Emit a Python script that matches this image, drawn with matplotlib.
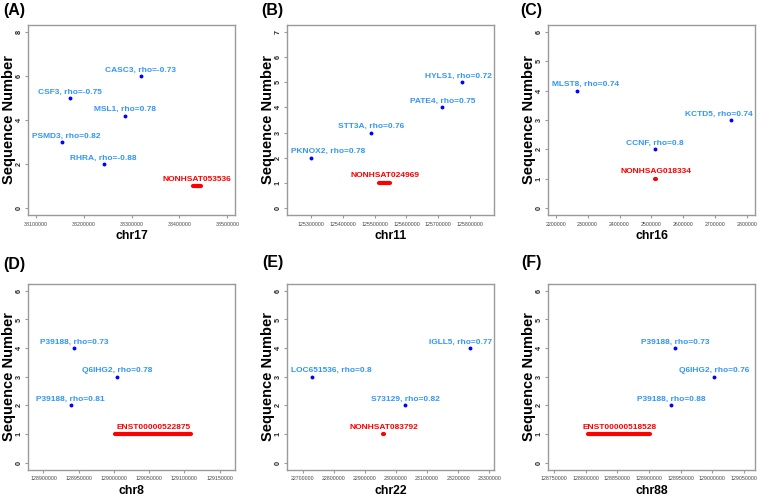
import matplotlib
matplotlib.use("Agg")
import matplotlib.pyplot as plt

plt.rcParams['font.family'] = ['Liberation Sans', 'DejaVu Sans']

# panel letters, chromosome names
panels = ['(A)', '(B)', '(C)', '(D)', '(E)', '(F)']
chroms = ['chr17', 'chr11', 'chr16', 'chr8', 'chr22', 'chr88']

# co-expressed genes per panel: name, position, row, rho
gene_names = [
    ['CASC3', 'CSF3', 'MSL1', 'PSMD3', 'RHRA'],
    ['HYLS1', 'PATE4', 'STT3A', 'PKNOX2'],
    ['MLST8', 'KCTD5', 'CCNF'],
    ['P39188', 'Q6IHG2', 'P39188'],
    ['IGLL5', 'LOC651536', 'S73129'],
    ['P39188', 'Q6IHG2', 'P39188'],
]
gene_pos = [
    [38319000, 38172500, 38286000, 38154000, 38242000],
    [125772400, 125712200, 125490300, 125300000],
    [2268000, 2750000, 2510000],
    [128943150, 129005060, 128938460],
    [23238140, 22730420, 23029380],
    [128941250, 129003790, 128935470],
]
gene_row = [
    [6, 5, 4.2, 3, 2],
    [5, 4, 3, 2],
    [4, 3, 2],
    [4, 3, 2],
    [4, 3, 2],
    [4, 3, 2],
]
gene_rho = [
    [-0.73, -0.75, 0.78, 0.82, -0.88],
    [0.72, 0.75, 0.76, 0.78],
    [0.74, 0.74, 0.8],
    [0.73, 0.78, 0.81],
    [0.77, 0.8, 0.82],
    [0.73, 0.76, 0.88],
]

# lncRNA in each panel (row 1)
lnc_names = ['NONHSAT053536', 'NONHSAT024969', 'NONHSAG018334',
             'ENST00000522875', 'NONHSAT083792', 'ENST00000518528']
lnc_start = [38428000, 125514000, 2512000, 129002250, 22959500, 128804100]
lnc_end = [38444000, 125548500, 2514000, 129110130, 22961000, 128901300]

# axis ranges and ticks
x_limits = [(38084000, 38516000), (125226000, 125874000), (2176000, 2824000),
            (128878000, 129172000), (22650000, 23315000), (128740000, 129068000)]
x_ticks = [
    [38100000, 38200000, 38300000, 38400000, 38500000],
    [125300000, 125400000, 125500000, 125600000, 125700000, 125800000],
    [2200000, 2300000, 2400000, 2500000, 2600000, 2700000, 2800000],
    [128900000, 128950000, 129000000, 129050000, 129100000, 129150000],
    [22700000, 22800000, 22900000, 23000000, 23100000, 23200000, 23300000],
    [128750000, 128800000, 128850000, 128900000, 128950000, 129000000, 129050000],
]
y_max = [8, 7, 6, 6, 6, 6]
y_step = [2, 1, 1, 1, 1, 1]

W, H = 760, 497
fig = plt.figure(figsize=(7.6, 4.97), dpi=100)

lefts = [28, 287, 548]
box_w = 207
rows = [(25, 215), (284, 469.5)]
letter_pos = [(3, 10), (261, 10), (520, 10), (3, 264), (262, 263), (521, 263)]

grey = '#9a9a9a'
blue_txt = '#3396f5'
all_labels = []

for i in range(6):
    r, c = divmod(i, 3)
    top, bot = rows[r]
    ax = fig.add_axes([lefts[c] / W, 1 - bot / H, box_w / W, (bot - top) / H])
    for s in ax.spines.values():
        s.set_color(grey)
        s.set_linewidth(1.0)

    ym = y_max[i]
    ax.set_ylim(-0.04 * ym, ym * 1.04)
    ax.set_xlim(*x_limits[i])
    ax.set_yticks(list(range(0, ym + 1, y_step[i])))
    ax.set_xticks(x_ticks[i])
    ax.set_xticklabels([str(t) for t in x_ticks[i]])
    ax.tick_params(axis='x', labelsize=3.8, colors=grey, labelcolor='#444444',
                   length=2.5, width=0.8, pad=2.5)
    ax.tick_params(axis='y', labelsize=5.2, colors=grey, labelcolor='#222222',
                   length=2.5, width=0.8, pad=1.5)
    for lab in ax.get_yticklabels():
        lab.set_rotation(90)
        lab.set_va('center')
        lab.set_fontweight('bold')

    h = bot - top
    ax.set_xlabel(chroms[i], fontsize=8.8, fontweight='bold', va='center')
    ax.xaxis.set_label_coords(0.5, -21 / h)
    ax.set_ylabel('Sequence Number', fontsize=10.5, fontweight='bold', va='center')
    ax.yaxis.set_label_coords(-19 / box_w, 0.5)

    # genes
    ax.plot(gene_pos[i], gene_row[i], 'o', color='#0000ff', markersize=2.8,
            markeredgewidth=0, zorder=3)
    for name, x, y, rho in zip(gene_names[i], gene_pos[i], gene_row[i], gene_rho[i]):
        t = ax.annotate(f'{name}, rho={rho}', (x, y), xytext=(0, 1.8),
                        textcoords='offset points', ha='center', va='bottom',
                        fontsize=6, fontweight='bold', color=blue_txt)
        all_labels.append((ax, t))

    # lncRNA
    ax.plot([lnc_start[i], lnc_end[i]], [1, 1], color='#ff0000', linewidth=3,
            solid_capstyle='round', zorder=3)
    mid = (lnc_start[i] + lnc_end[i]) / 2
    t = ax.annotate(lnc_names[i], (mid, 1), xytext=(0, 2.4),
                    textcoords='offset points', ha='center', va='bottom',
                    fontsize=6, fontweight='bold', color='#ff0000')
    all_labels.append((ax, t))

    lx, ly = letter_pos[i]
    fig.text(lx / W, 1 - ly / H, panels[i], fontsize=11.5, fontweight='bold',
             ha='left', va='center')

# keep labels inside the plot box
fig.canvas.draw()
renderer = fig.canvas.get_renderer()
for ax, t in all_labels:
    bb = t.get_window_extent(renderer)
    abb = ax.get_window_extent(renderer)
    dx = 0
    if bb.x0 < abb.x0 + 4:
        dx = abb.x0 + 4 - bb.x0
    elif bb.x1 > abb.x1 - 2:
        dx = abb.x1 - 2 - bb.x1
    if dx:
        ox, oy = t.xyann
        t.xyann = (ox + dx * 72 / fig.dpi, oy)

fig.savefig('out.png', dpi=100)
